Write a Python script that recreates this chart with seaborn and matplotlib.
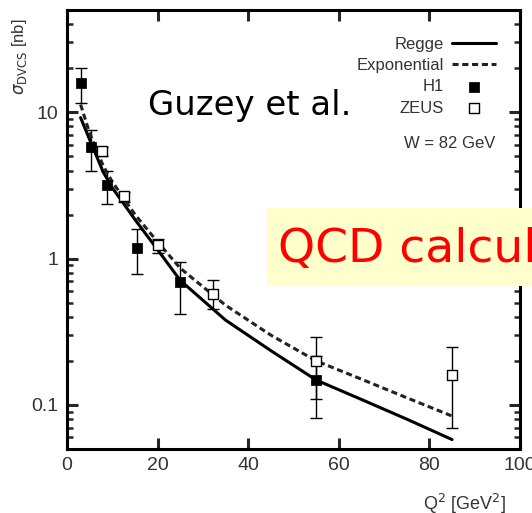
import numpy as np
import pandas as pd
import matplotlib
matplotlib.use("Agg")
import matplotlib.pyplot as plt
from matplotlib.patches import Rectangle
from matplotlib.ticker import LogLocator, NullFormatter, FixedLocator
import seaborn as sns

# Model curves (Q^2 in GeV^2, sigma in nb)
regge_q2 = [3, 5, 8, 10, 15, 20, 25, 35, 45, 55, 65, 75, 85]
regge_sigma = [9.2, 6.5, 3.9, 3.05, 1.85, 1.15, 0.71, 0.38, 0.235, 0.148, 0.109, 0.080, 0.058]

expo_q2 = [3, 5, 8, 10, 15, 20, 25, 35, 45, 55, 65, 75, 85]
expo_sigma = [11.3, 7.2, 4.3, 3.35, 2.0, 1.3, 0.86, 0.48, 0.30, 0.20, 0.15, 0.112, 0.084]

# H1 measurements
h1_q2 = [3, 5.2, 8.8, 15.4, 25, 55]
h1_sigma = [15.8, 5.75, 3.16, 1.19, 0.69, 0.148]
h1_lo = [11.5, 3.95, 2.38, 0.78, 0.42, 0.081]
h1_hi = [20.0, 7.55, 3.95, 1.6, 0.95, 0.215]

# ZEUS measurements
zeus_q2 = [7.7, 12.6, 20, 32.3, 55, 85]
zeus_sigma = [5.4, 2.66, 1.23, 0.575, 0.20, 0.16]
zeus_lo = [5.0, 2.45, 1.10, 0.45, 0.11, 0.07]
zeus_hi = [5.8, 2.87, 1.36, 0.71, 0.29, 0.25]

x_ticks = [0, 20, 40, 60, 80, 100]
y_ticks = [0.1, 1, 10]
y_ticklabels = ["0.1", "1", "10"]

sns.set_style("ticks")
narrow = ["Liberation Sans Narrow", "Liberation Sans", "DejaVu Sans"]
plt.rcParams["font.family"] = narrow

fig = plt.figure(figsize=(5.32, 5.13), dpi=100)
ax = fig.add_axes([67 / 532, 1 - 449 / 513, (520 - 67) / 532, (449 - 10) / 513])

regge = pd.DataFrame({"q2": regge_q2, "sigma": regge_sigma})
expo = pd.DataFrame({"q2": expo_q2, "sigma": expo_sigma})
h1 = pd.DataFrame({"q2": h1_q2, "sigma": h1_sigma})
zeus = pd.DataFrame({"q2": zeus_q2, "sigma": zeus_sigma})

# error bars
for q, s, lo, hi in [(h1_q2, h1_sigma, h1_lo, h1_hi), (zeus_q2, zeus_sigma, zeus_lo, zeus_hi)]:
    s = np.array(s)
    ax.errorbar(q, s, yerr=[s - np.array(lo), np.array(hi) - s], fmt="none",
                ecolor="black", elinewidth=1.0, capsize=4, capthick=1.0, zorder=2)

sns.lineplot(data=regge, x="q2", y="sigma", ax=ax, color="black", lw=2.2,
             label="Regge", zorder=3)
sns.lineplot(data=expo, x="q2", y="sigma", ax=ax, color="#222222", lw=2.2,
             linestyle=(0, (2, 1.2)), label="Exponential", zorder=3)
sns.scatterplot(data=h1, x="q2", y="sigma", ax=ax, marker="s", s=45,
                color="black", edgecolor="black", label="H1", zorder=4)
sns.scatterplot(data=zeus, x="q2", y="sigma", ax=ax, marker="s", s=45,
                facecolor="white", edgecolor="black", linewidth=1.0,
                label="ZEUS", zorder=4)

ax.set_yscale("log")
ax.set_xlim(0, 100)
ax.set_ylim(0.05, 50)
ax.set_xlabel("")
ax.set_ylabel("")

ax.xaxis.set_major_locator(FixedLocator(x_ticks))
ax.set_xticklabels([str(t) for t in x_ticks])
ax.yaxis.set_major_locator(FixedLocator(y_ticks))
ax.set_yticklabels(y_ticklabels)
ax.yaxis.set_minor_locator(LogLocator(base=10, subs=np.arange(2, 10)))
ax.yaxis.set_minor_formatter(NullFormatter())

ax.tick_params(axis="both", which="major", direction="in", length=8, width=2.2,
               top=True, right=True, labelsize=14, pad=6, labelcolor="#333333")
ax.tick_params(axis="y", which="minor", direction="in", length=4, width=1.8,
               left=True, right=True)
for sp in ax.spines.values():
    sp.set_visible(True)
    sp.set_linewidth(2.2)
    sp.set_color("black")

leg = ax.legend(loc="upper right", bbox_to_anchor=(0.968, 0.962), frameon=False,
                markerfirst=False, fontsize=12, handlelength=2.6, handletextpad=0.5,
                labelspacing=0.38, borderaxespad=0.2)
for t in leg.get_texts():
    t.set_ha("right")
    t.set_color("#333333")

ax.text(0.845, 0.695, "W = 82 GeV", transform=ax.transAxes, ha="center",
        va="center", fontsize=12, color="#333333")

ax.text(-0.105, 0.98, r"$\sigma_{\rm DVCS}$ [nb]", transform=ax.transAxes,
        rotation=90, ha="center", va="top", fontsize=12, color="#333333")
ax.text(0.97, -0.125, r"Q$^2$ [GeV$^2$]", transform=ax.transAxes,
        ha="right", va="center", fontsize=13, color="#333333")

# annotations on top of the plot
fig.text(148 / 532, 1 - 105 / 513, "Guzey et al.", ha="left", va="center",
         fontsize=24.5, family=["DejaVu Sans"], color="black")
fig.patches.append(Rectangle((267 / 532, 1 - 286 / 513), 1 - 267 / 532, 78 / 513,
                             transform=fig.transFigure, facecolor="#FFFFCC",
                             edgecolor="none", zorder=5))
fig.text(278 / 532, 1 - 250 / 513, "QCD calcul", ha="left", va="center",
         fontsize=34, family=["DejaVu Sans"], color="#FF0000", zorder=6)

fig.savefig("out.png", dpi=100)
